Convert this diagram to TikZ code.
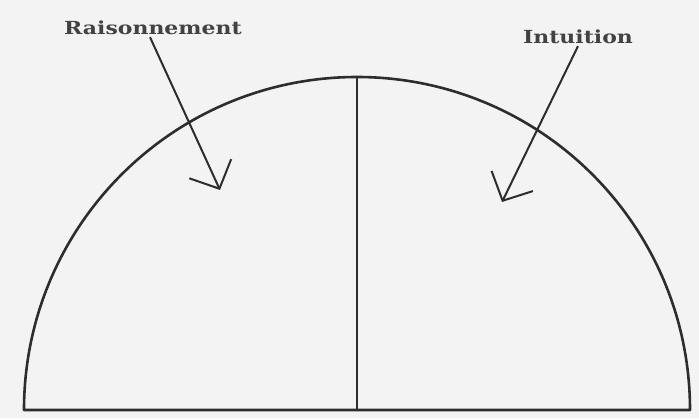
\documentclass[tikz,border=0pt]{standalone}
\usepackage{fontspec}
\usepackage{tikz}
\usetikzlibrary{arrows.meta, positioning, calc}
\newfontfamily\labelfont[FakeStretch=1.22]{DejaVu Serif}
\definecolor{paper}{RGB}{243, 243, 243}
\definecolor{ink}{RGB}{45, 45, 45}
\tikzset{
  x=1pt, y=1pt,
  halfdisc/.style={draw=ink, line width=2.6pt, line join=round},
  divider/.style={draw=ink, line width=2pt},
  labeltext/.style={font=\labelfont\bfseries\fontsize{18}{18}\selectfont, text=ink!90, inner sep=2pt},
  pointer/.style={
    draw=ink, line width=2pt,
    -{Straight Barb[length=22pt, width=46pt, line width=2pt]}
  }
}
\begin{document}
\begin{tikzpicture}

  % Frame (paper)
  \fill[paper] (0,0) rectangle (699,418);
  \useasboundingbox (0,0) rectangle (699,418);

  % Half disc with its dividing radius
  \coordinate (base_left) at (24,8);
  \coordinate (base_mid) at (357,8);
  \coordinate (apex) at (357,341);
  \draw[halfdisc] (base_left) arc (180:0:333) -- cycle;
  \draw[divider] (base_mid) -- (apex);

  % Labels
  \node[labeltext] (reason_lbl) at (153,390) {Raisonnement};
  \node[labeltext] (intuit_lbl) at (578,381) {Intuition};

  % Arrow tips inside the two halves
  \coordinate (reason_tip) at (220,228);
  \coordinate (intuit_tip) at (502,216);

  % Pointers
  \draw[pointer] (reason_lbl.south -| 150,0) -- (reason_tip);
  \draw[pointer] (intuit_lbl.south) -- (intuit_tip);

\end{tikzpicture}
\end{document}
